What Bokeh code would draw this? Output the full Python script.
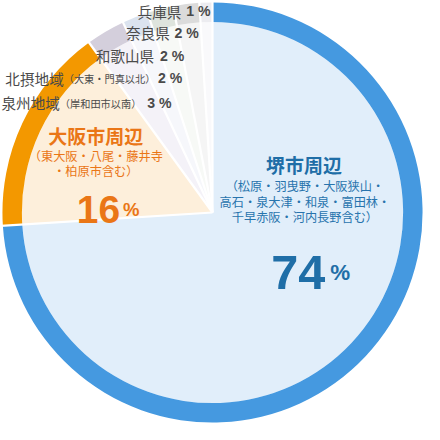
import numpy as np
from bokeh.plotting import figure
from bokeh.models import Range1d
from bokeh.core.properties import value
from bokeh.embed import file_html
from bokeh.resources import INLINE

# ---- data ----
regions = ["堺市周辺", "大阪市周辺", "泉州地域", "北摂地域", "和歌山県", "奈良県", "兵庫県"]
notes = ["（松原・羽曳野・大阪狭山・|高石・泉大津・和泉・富田林・|千早赤阪・河内長野含む）",
         "（東大阪・八尾・藤井寺|・柏原市含む）",
         "（岸和田市以南）", "（大東・門真以北）", "", "", ""]
shares = [74, 16, 3, 2, 2, 2, 1]
ring_colors = ["#4599e0", "#f39800", "#d4cfdc", "#dbe3ef", "#dee4dd", "#dbdbdb", "#ececf0"]
fill_colors = ["#e1eefa", "#fdefdb", "#f4f2f8", "#f6f7fb", "#f7f9f6", "#f5f5f5", "#f9f9fb"]

W = 424
H = 440
LO, HI = 2, 438
S = W / (HI - LO)

def fs(px):
    return f"{px * S:.1f}px"

def Y(yimg):
    return H - yimg

# data units == reference image pixels (slightly scaled to fit)
p = figure(width=W, height=W, output_backend="svg", toolbar_location=None,
           x_range=Range1d(LO, HI), y_range=Range1d(LO, HI), min_border=0)
p.axis.visible = False
p.grid.visible = False
p.outline_line_color = None
p.background_fill_color = "white"

cx, cy = 220, Y(220)
R_out, R_in = 216, 196

frac = np.array(shares, dtype=float) / sum(shares)
cum = np.concatenate([[0], np.cumsum(frac)])
start = np.pi / 2 - 2 * np.pi * cum[:-1]
end = np.pi / 2 - 2 * np.pi * cum[1:]

p.wedge(x=cx, y=cy, radius=R_in, start_angle=start, end_angle=end, direction="clock",
        fill_color=fill_colors, line_color=None)
p.annular_wedge(x=cx, y=cy, inner_radius=R_in, outer_radius=R_out, start_angle=start,
                end_angle=end, direction="clock", fill_color=ring_colors, line_color=None)
# white separators
b = np.pi / 2 - 2 * np.pi * cum[:-1]
p.segment(x0=cx, y0=cy, x1=cx + (R_out + 2) * np.cos(b), y1=cy + (R_out + 2) * np.sin(b),
          line_color="white", line_width=2.2)

JP = value("Noto Sans CJK JP")
NUM = value("Liberation Sans")
grey = "#4a4a4a"

# small slice labels: (index, name x, y, note x, pct x) in image px
small = [
    (6, 143, 13, None, 193),   # 兵庫県
    (5, 131, 35, None, 181),   # 奈良県
    (4, 100, 59, None, 166),   # 和歌山県
    (3, 7, 82, 67, 164),       # 北摂地域
    (2, 3, 107, 63, 153),      # 泉州地域
]
for idx, xn, yi, xnote, xp in small:
    p.text(x=[xn], y=[Y(yi)], text=[regions[idx]], text_font=JP, text_font_size=fs(15),
           text_color=grey, text_baseline="middle", text_align="left")
    if xnote is not None:
        p.text(x=[xnote], y=[Y(yi + 0.5)], text=[notes[idx]], text_font=JP,
               text_font_size=fs(10.5), text_color=grey, text_baseline="middle",
               text_align="left")
    p.text(x=[xp], y=[Y(yi)], text=[f"{shares[idx]} %"], text_font=NUM,
           text_font_size=fs(14.5), text_font_style="bold", text_color=grey,
           text_baseline="middle", text_align="left")

# 大阪市周辺
orange = "#ea7616"
p.text(x=[100], y=[Y(141)], text=[regions[1]], text_font=JP, text_font_size=fs(19.5),
       text_font_style="bold", text_color=orange, text_baseline="middle", text_align="center")
for k, line in enumerate(notes[1].split("|")):
    p.text(x=[100], y=[Y(162 + 15 * k)], text=[line], text_font=JP, text_font_size=fs(12.5),
           text_color=orange, text_baseline="middle", text_align="center")
p.text(x=[125], y=[Y(217)], text=[str(shares[1])], text_font=NUM, text_font_size=fs(40),
       text_font_style="bold", text_color=orange, text_baseline="alphabetic", text_align="right")
p.text(x=[128], y=[Y(217)], text=["%"], text_font=NUM, text_font_size=fs(19),
       text_font_style="bold", text_color=orange, text_baseline="alphabetic", text_align="left")

# 堺市周辺
blue = "#1f6ea7"
p.text(x=[314], y=[Y(171)], text=[regions[0]], text_font=JP, text_font_size=fs(19.5),
       text_font_style="bold", text_color=blue, text_baseline="middle", text_align="center")
for k, line in enumerate(notes[0].split("|")):
    p.text(x=[315], y=[Y(193 + 16 * k)], text=[line], text_font=JP, text_font_size=fs(12.5),
           text_color="#2874ad", text_baseline="middle", text_align="center")
p.text(x=[336], y=[Y(282)], text=[str(shares[0])], text_font=NUM, text_font_size=fs(50),
       text_font_style="bold", text_color=blue, text_baseline="alphabetic", text_align="right")
p.text(x=[341], y=[Y(282)], text=["%"], text_font=NUM, text_font_size=fs(23),
       text_font_style="bold", text_color=blue, text_baseline="alphabetic", text_align="left")

open("out.html", "w").write(file_html(p, INLINE))
